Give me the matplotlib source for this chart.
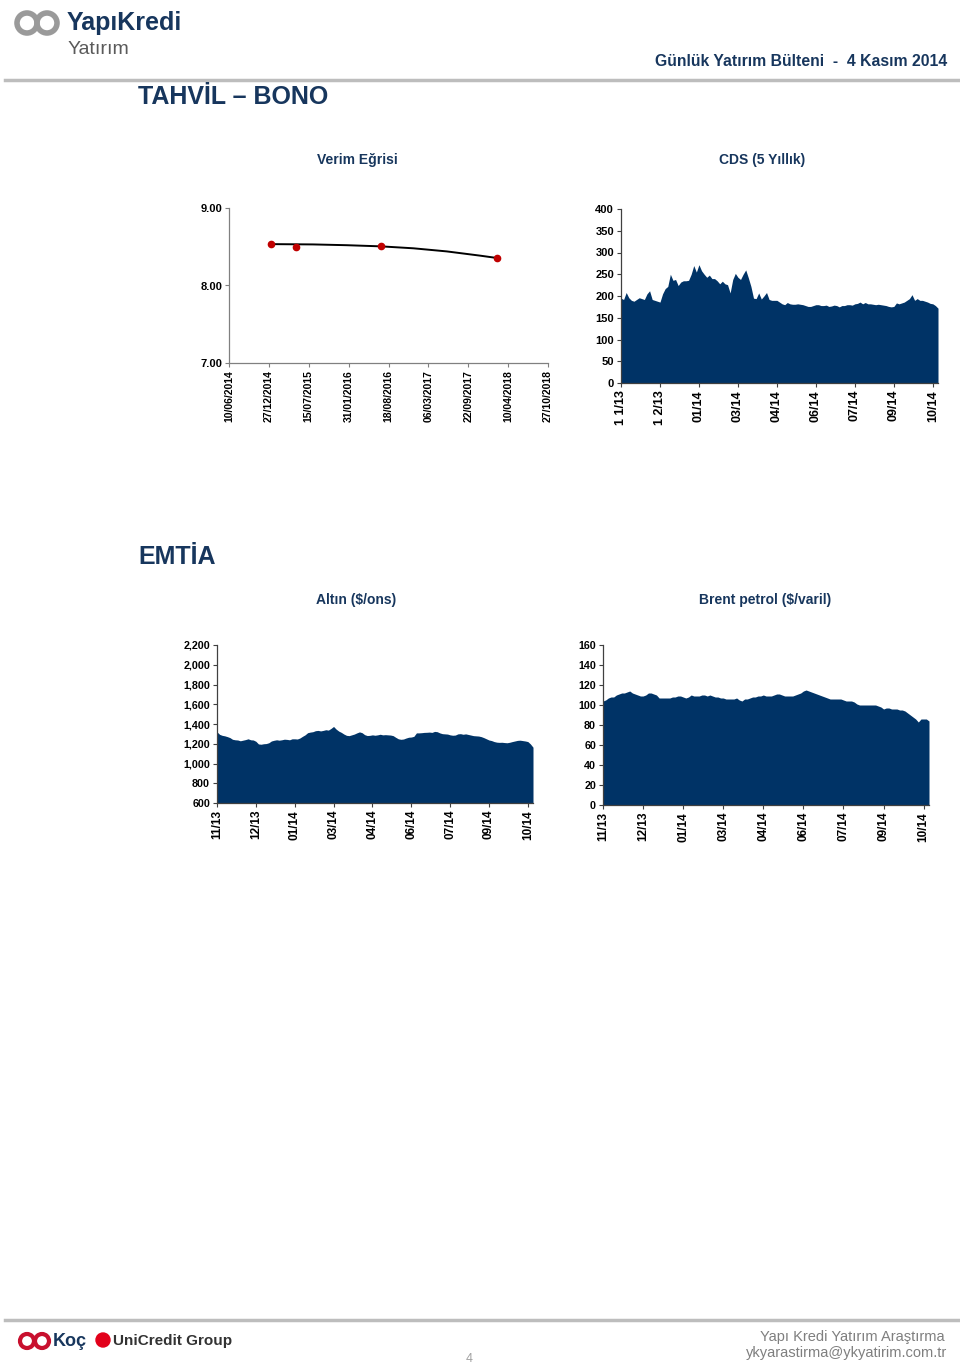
import matplotlib
matplotlib.use("Agg")
import matplotlib.pyplot as plt
import matplotlib.dates as mdates
from matplotlib.patches import Circle
import datetime as dt
import numpy as np

plt.rcParams['font.family'] = ['Liberation Sans', 'DejaVu Sans']

# --- Verim egrisi (getiri egrisi) ---
verim_tarih = ["05/01/2015", "13/05/2015", "11/07/2016", "13/02/2018"]
verim_deger = [8.534, 8.496, 8.504, 8.353]
egri_tarih = ["05/01/2015", "06/08/2015", "21/01/2016", "11/07/2016", "21/12/2016",
              "06/06/2017", "21/11/2017", "13/02/2018"]
egri_deger = [8.534, 8.530, 8.520, 8.505, 8.480, 8.440, 8.385, 8.355]
verim_tick = ["10/06/2014", "27/12/2014", "15/07/2015", "31/01/2016", "18/08/2016",
              "06/03/2017", "22/09/2017", "10/04/2018", "27/10/2018"]

# --- Kategori eksen etiketleri (gunluk seri) ---
ay_etiket = ["11/13", "12/13", "01/14", "03/14", "04/14", "06/14", "07/14", "09/14", "10/14"]
cds_etiket = ["1 1/13", "1 2/13", "01/14", "03/14", "04/14", "06/14", "07/14", "09/14", "10/14"]

# CDS (5 yillik), baz puan
cds = [195, 192, 208, 196, 190, 188, 192, 196, 194, 192, 205, 212, 192, 190, 188,
       186, 205, 217, 222, 250, 236, 238, 224, 232, 235, 235, 236, 250, 270, 255,
       272, 258, 250, 243, 248, 240, 240, 235, 228, 234, 228, 226, 207, 238, 252,
       243, 238, 250, 260, 242, 222, 195, 194, 207, 193, 200, 208, 192, 190, 190,
       190, 186, 182, 180, 185, 182, 181, 181, 182, 181, 180, 178, 176, 176, 178,
       180, 180, 178, 178, 179, 176, 177, 179, 178, 175, 178, 178, 180, 180, 179,
       182, 183, 186, 182, 185, 182, 182, 181, 180, 181, 180, 179, 178, 176, 175,
       176, 184, 182, 184, 186, 190, 194, 203, 190, 194, 190, 190, 188, 186, 183,
       182, 178, 172]

# Altin ($/ons)
altin = [1320, 1295, 1285, 1280, 1272, 1262, 1245, 1240, 1238, 1230, 1236, 1242, 1250, 1240, 1238,
         1225, 1198, 1195, 1200, 1202, 1210, 1228, 1235, 1240, 1236, 1240, 1246, 1244, 1240, 1250,
         1250, 1248, 1258, 1275, 1290, 1312, 1318, 1322, 1332, 1335, 1330, 1335, 1342, 1338, 1355,
         1375, 1348, 1328, 1315, 1298, 1285, 1282, 1290, 1298, 1310, 1320, 1312, 1292, 1283, 1285,
         1290, 1286, 1290, 1296, 1290, 1292, 1290, 1288, 1282, 1265, 1250, 1245, 1248, 1258, 1266,
         1268, 1275, 1310, 1310, 1312, 1315, 1316, 1318, 1315, 1325, 1322, 1310, 1302, 1300, 1298,
         1290, 1286, 1288, 1300, 1302, 1296, 1300, 1294, 1288, 1282, 1280, 1278, 1272, 1262, 1250,
         1238, 1232, 1222, 1216, 1214, 1215, 1212, 1210, 1215, 1222, 1228, 1234, 1236, 1232, 1228,
         1222, 1198, 1165]

# Brent petrol ($/varil)
brent = [104, 105, 107, 108, 108, 110, 111, 112, 112, 113, 114, 112, 111, 110, 109,
         109, 110, 112, 112, 111, 110, 107, 107, 107, 107, 107, 108, 108, 109, 109,
         108, 107, 108, 110, 109, 109, 109, 110, 110, 109, 110, 109, 108, 108, 107,
         107, 106, 106, 106, 106, 107, 105, 104, 106, 106, 107, 108, 108, 109, 109,
         110, 109, 109, 109, 110, 111, 111, 110, 109, 109, 109, 109, 110, 111, 112,
         114, 115, 114, 113, 112, 111, 110, 109, 108, 107, 106, 106, 106, 106, 106,
         105, 104, 104, 104, 103, 101, 100, 100, 100, 100, 100, 100, 100, 99, 98,
         96, 97, 97, 96, 96, 96, 95, 95, 94, 92, 90, 88, 86, 83, 86,
         86, 86, 84]

LACIVERT = "#17365D"
ALAN = "#003366"
W, H = 960, 1365


def px(x, y):
    return x / W, 1 - y / H


def daire(x, y, r, **kw):
    # piksel cinsinden yuvarlak (inch donusumu ile)
    fig.patches.append(Circle((x / 100, (H - y) / 100), r / 100,
                              transform=fig.dpi_scale_trans, **kw))


def eksen(left, top, right, bottom):
    return fig.add_axes([left / W, 1 - bottom / H, (right - left) / W, (bottom - top) / H])


def sade(ax, renk="#808080"):
    for s in ["top", "right"]:
        ax.spines[s].set_visible(False)
    for s in ["left", "bottom"]:
        ax.spines[s].set_color(renk)
        ax.spines[s].set_linewidth(0.9)
    ax.tick_params(axis="both", direction="out", length=3, width=0.8, color=renk, pad=2)
    ax.set_facecolor("none")


def alan_grafik(ax, seri, alt, ust, adim, etiketler, fmt, yfs, xfs):
    x = np.arange(len(seri))
    ax.fill_between(x, seri, alt, color=ALAN, lw=0)
    ax.set_xlim(0, len(seri) - 1)
    ax.set_ylim(alt, ust)
    ax.set_yticks(np.arange(alt, ust + 1, adim))
    ax.set_yticklabels([fmt.format(v) for v in np.arange(alt, ust + 1, adim)],
                       fontsize=yfs, fontweight="bold")
    ax.set_xticks(np.arange(0, 15 * len(etiketler), 15))
    ax.set_xticklabels(etiketler, rotation=90, fontsize=xfs, fontweight="bold")


fig = plt.figure(figsize=(9.6, 13.65), dpi=100)

# --- Ust bilgi ---
for cx in [27, 47]:
    daire(cx, 23, 10, fill=False, ec="#9A9A9A", lw=4)
fig.text(*px(67, 23), "YapıKredi", fontsize=18, fontweight="bold", color=LACIVERT,
         va="center", ha="left")
fig.text(*px(68, 50), "Yatırım", fontsize=14, color="#5A5A5A", va="center", ha="left")
fig.text(*px(947, 62), "Günlük Yatırım Bülteni  -  4 Kasım 2014", fontsize=11.3,
         fontweight="bold", color=LACIVERT, ha="right", va="center")
fig.add_artist(plt.Line2D([5 / W, 958 / W], [1 - 80 / H, 1 - 80 / H], color="#BDBDBD", lw=2.5))

fig.text(*px(138, 97), "TAHVİL – BONO", fontsize=18, fontweight="bold", color=LACIVERT,
         ha="left", va="center")
fig.text(*px(138, 557), "EMTİA", fontsize=18, fontweight="bold", color=LACIVERT,
         ha="left", va="center")

fig.text(*px(357, 160), "Verim Eğrisi", fontsize=10, fontweight="bold", color=LACIVERT, ha="center", va="center")
fig.text(*px(762, 160), "CDS (5 Yıllık)", fontsize=10, fontweight="bold", color=LACIVERT, ha="center", va="center")
fig.text(*px(356, 600), "Altın ($/ons)", fontsize=10, fontweight="bold", color=LACIVERT, ha="center", va="center")
fig.text(*px(765, 600), "Brent petrol ($/varil)", fontsize=10, fontweight="bold", color=LACIVERT, ha="center", va="center")

# --- Verim egrisi ---
ax1 = eksen(229, 208, 548, 363)
sade(ax1)
tarih = lambda lst: [mdates.date2num(dt.datetime.strptime(t, "%d/%m/%Y")) for t in lst]
ax1.plot(tarih(egri_tarih), egri_deger, color="black", lw=1.4)
ax1.plot(tarih(verim_tarih), verim_deger, "o", color="#C00000", ms=4.5, mec="#C00000")
ax1.set_xlim(tarih(verim_tick)[0], tarih(verim_tick)[-1])
ax1.set_xticks(tarih(verim_tick))
ax1.set_xticklabels(verim_tick, rotation=90, fontsize=7.5, fontweight="bold")
ax1.set_ylim(7, 9)
ax1.set_yticks([7, 8, 9])
ax1.set_yticklabels(["7.00", "8.00", "9.00"], fontsize=8, fontweight="bold")

# --- CDS ---
ax2 = eksen(621, 209, 938, 383)
sade(ax2, "#404040")
alan_grafik(ax2, cds, 0, 400, 50, cds_etiket, "{:d}", 8, 9)

# --- Altin ---
ax3 = eksen(217, 645, 533, 803)
sade(ax3, "#404040")
alan_grafik(ax3, altin, 600, 2200, 200, ay_etiket, "{:,d}", 7.7, 8.5)

# --- Brent ---
ax4 = eksen(603, 645, 929, 805)
sade(ax4, "#404040")
alan_grafik(ax4, brent, 0, 160, 20, ay_etiket, "{:d}", 7.7, 8.5)

# --- Alt bilgi ---
fig.add_artist(plt.Line2D([5 / W, 958 / W], [1 - 1320 / H, 1 - 1320 / H], color="#BDBDBD", lw=2.5))
for cx in [27, 42]:
    daire(cx, 1341, 7, fill=False, ec="#C8102E", lw=3)
fig.text(*px(53, 1341), "Koç", fontsize=13, fontweight="bold", color=LACIVERT,
         va="center", ha="left")
daire(103, 1340, 7, color="#E2001A")
fig.text(*px(113, 1341), "UniCredit Group", fontsize=11, fontweight="bold", color="#333333",
         va="center", ha="left")
fig.text(*px(469, 1359), "4", fontsize=9, color="#A0A0A0", ha="center", va="center")
fig.text(*px(945, 1337), "Yapı Kredi Yatırım Araştırma", fontsize=10.5, color="#7F7F7F",
         ha="right", va="center")
fig.text(*px(947, 1353), "ykyarastirma@ykyatirim.com.tr", fontsize=10.5, color="#7F7F7F",
         ha="right", va="center")

fig.savefig("out.png", dpi=100)
